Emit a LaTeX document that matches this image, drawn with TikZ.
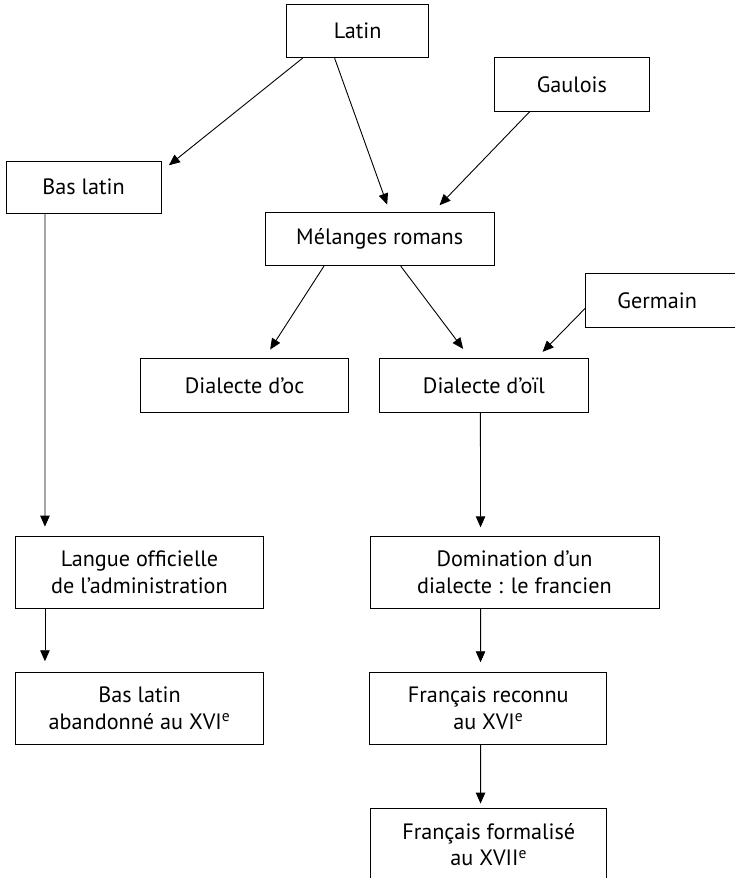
\documentclass[tikz,border=0pt]{standalone}
\usepackage{fontspec}
\setmainfont{PT Sans}
\usetikzlibrary{arrows.meta}
\begin{document}
\begin{tikzpicture}[x=1pt,y=1pt,
  box/.style={draw, line width=0.9pt, inner sep=0pt, align=center,
    font=\fontsize{22.2}{26.7}\selectfont},
  arr/.style={line width=0.9pt, -{Triangle[length=11pt,width=9.5pt]}}]
\useasboundingbox (0,0) rectangle (734,-878);
% nodes
\node[box, minimum width=142.3pt, minimum height=53pt] (latin) at (357.7,-31.2) {Latin};
\node[box, minimum width=155pt, minimum height=53.3pt] (gaulois) at (571.9,-84.3) {Gaulois};
\node[box, minimum width=155pt, minimum height=52pt] (baslatin) at (83.5,-187) {Bas latin};
\node[box, minimum width=229.4pt, minimum height=53.4pt] (melanges) at (379.7,-239) {Mélanges romans};
\node[box, anchor=west, align=left, text width=130pt, inner xsep=31.8pt, minimum height=54pt] (germain) at (585.2,-300.3) {Germain};
\node[box, minimum width=208.4pt, minimum height=54pt] (oc) at (244.6,-385.7) {Dialecte d’oc};
\node[box, minimum width=208.3pt, minimum height=54pt] (oil) at (483.9,-385.7) {Dialecte d’oïl};
\node[box, minimum width=248.2pt, minimum height=72.3pt] (langue) at (139.5,-572.2) {Langue officielle\\de l’administration};
\node[box, minimum width=289pt, minimum height=72.3pt] (domination) at (514.5,-572.2) {Domination d’un\\dialecte : le francien};
\node[box, minimum width=248.2pt, minimum height=72pt] (baslatinb) at (139.5,-708) {Bas latin\\abandonné au XVI\textsuperscript{e}};
\node[box, minimum width=236.8pt, minimum height=72pt] (reconnu) at (488.3,-708) {Français reconnu\\au XVI\textsuperscript{e}};
\node[box, minimum width=236pt, minimum height=72pt] (formalise) at (488.7,-844.5) {Français formalisé\\au XVII\textsuperscript{e}};
% connectors
\draw[arr] ([xshift=16.5pt]latin.south west) -- ([xshift=7.5pt,yshift=-4.7pt]baslatin.north east);
\draw[arr] ([xshift=48.5pt]latin.south west) -- ([xshift=122.6pt,yshift=7.3pt]melanges.north west);
\draw[arr] ([xshift=36pt]gaulois.south west) -- ([xshift=175pt,yshift=6.6pt]melanges.north west);
\draw[arr] ([xshift=59.4pt]melanges.south west) -- ([xshift=130.2pt,yshift=8.7pt]oc.north west);
\draw[arr] ([xshift=136.2pt]melanges.south west) -- ([xshift=83.8pt,yshift=9.4pt]oil.north west);
\draw[arr] ([yshift=-8pt]germain.west) -- ([xshift=163.3pt,yshift=6.4pt]oil.north west);
\draw[arr] ([xshift=39.4pt]baslatin.south west) -- ([xshift=30pt,yshift=9pt]langue.north west);
\draw[arr] ([xshift=101.1pt]oil.south west) -- ([xshift=111pt,yshift=8.3pt]domination.north west);
\draw[arr] ([xshift=30pt]langue.south west) -- ([xshift=30pt,yshift=10.3pt]baslatinb.north west);
\draw[arr] ([xshift=111pt]domination.south west) -- ([xshift=111.1pt,yshift=9.3pt]reconnu.north west);
\draw[arr] ([xshift=111.1pt]reconnu.south west) -- ([xshift=110.3pt,yshift=4.5pt]formalise.north west);
\end{tikzpicture}
\end{document}
